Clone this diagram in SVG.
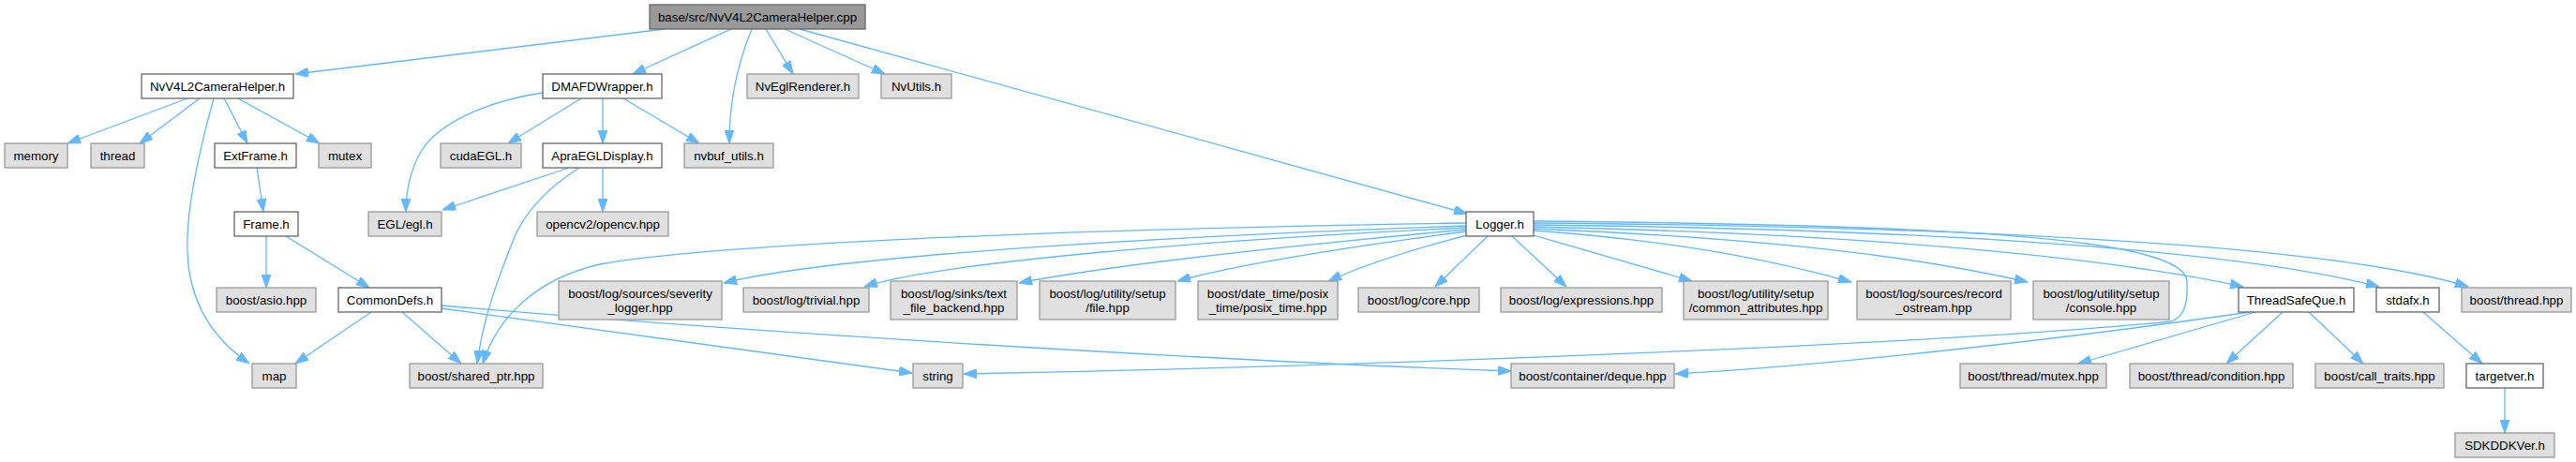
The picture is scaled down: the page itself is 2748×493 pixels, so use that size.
<svg xmlns="http://www.w3.org/2000/svg" width="2748" height="493" viewBox="0 0 2748 493">
<style>
.n rect{stroke-width:1.3}
.w rect{fill:#ffffff;stroke:#666666}
.g rect{fill:#e0e0e0;stroke:#999999}
.r rect{fill:#999999;stroke:#666666}
text{font-family:"Liberation Sans",Arial,Helvetica,sans-serif;font-size:13.3px;fill:#000000;text-anchor:middle}
#edges path{fill:none;stroke:#63b8ff;stroke-width:1.3;marker-end:url(#ah)}
</style>
<defs>
<marker id="ah" viewBox="0 0 14 10" markerWidth="14" markerHeight="10" refX="14" refY="5" orient="auto" markerUnits="userSpaceOnUse">
<path d="M0,0 L14,5 L0,10 z" fill="#63b8ff" stroke="#63b8ff" stroke-width="1"/>
</marker>
</defs>
<rect width="2748" height="493" fill="#ffffff"/>
<g id="edges">
<path d="M709,31 L315,79"/>
<path d="M780,31 L675,79"/>
<path d="M802,31 C790,60 778,100 778,153"/>
<path d="M817,31 L846,79"/>
<path d="M837,31 L944,79"/>
<path d="M853,31 L1565,228"/>
<path d="M200,105 L72,153"/>
<path d="M213,105 L149,153"/>
<path d="M228,105 C210,170 198,230 200,270 C202,320 225,360 266,388"/>
<path d="M239,105 L264,153"/>
<path d="M254,105 L341,153"/>
<path d="M579,99 C520,108 470,130 450,160 C437,182 433,205 433,226"/>
<path d="M620,105 L542,153"/>
<path d="M643,105 L643,153"/>
<path d="M665,105 L746,153"/>
<path d="M274,179 L281,226"/>
<path d="M607,179 L472,224"/>
<path d="M643,179 L643,226"/>
<path d="M618,179 C585,200 562,225 550,250 C532,295 515,340 509,388"/>
<path d="M284,252 L284,307"/>
<path d="M305,252 L394,307"/>
<path d="M396,333 L315,388"/>
<path d="M429,333 L492,388"/>
<path d="M471,329 L973,398"/>
<path d="M471,326 C800,355 1300,385 1612,396"/>
<path d="M1564,238 C1100,245 750,262 640,282 C570,298 530,340 515,388"/>
<path d="M1564,241 C1300,250 900,270 772,302"/>
<path d="M1564,243 C1300,255 1000,280 922,306"/>
<path d="M1564,245 C1400,260 1200,280 1087,302"/>
<path d="M1564,247 C1450,262 1320,282 1256,300"/>
<path d="M1565,251 C1500,268 1450,285 1417,300"/>
<path d="M1587,252 L1531,306"/>
<path d="M1613,252 L1671,306"/>
<path d="M1636,251 L1805,300"/>
<path d="M1636,246 C1800,258 1900,280 1975,301"/>
<path d="M1636,244 C1900,255 2050,275 2163,301"/>
<path d="M1636,242 C2000,250 2250,275 2393,306"/>
<path d="M1636,240 C2100,245 2400,270 2538,306"/>
<path d="M1636,238 C2150,242 2500,265 2633,306"/>
<path d="M1636,236 C2100,240 2330,255 2333,300 C2334,325 2330,338 2316,343 C2100,365 1500,390 1028,399"/>
<path d="M2406,333 L2217,388"/>
<path d="M2435,333 L2375,388"/>
<path d="M2463,333 L2521,388"/>
<path d="M2400,333 C2200,362 1950,390 1787,399"/>
<path d="M2585,333 L2648,388"/>
<path d="M2672,414 L2672,462"/>
</g>
<g id="n0" class="n r"><rect x="693" y="5" width="230" height="26"/><text x="808" y="22.5">base/src/NvV4L2CameraHelper.cpp</text></g>
<g id="n1" class="n w"><rect x="151" y="79" width="162" height="26"/><text x="232" y="96.5">NvV4L2CameraHelper.h</text></g>
<g id="n2" class="n w"><rect x="579" y="79" width="127" height="26"/><text x="642.5" y="96.5">DMAFDWrapper.h</text></g>
<g id="n3" class="n g"><rect x="797" y="79" width="119" height="26"/><text x="856.5" y="96.5">NvEglRenderer.h</text></g>
<g id="n4" class="n g"><rect x="940" y="79" width="75" height="26"/><text x="977.5" y="96.5">NvUtils.h</text></g>
<g id="n5" class="n g"><rect x="5" y="153" width="67" height="26"/><text x="38.5" y="170.5">memory</text></g>
<g id="n6" class="n g"><rect x="97" y="153" width="57" height="26"/><text x="125.5" y="170.5">thread</text></g>
<g id="n7" class="n w"><rect x="229" y="153" width="87" height="26"/><text x="272.5" y="170.5">ExtFrame.h</text></g>
<g id="n8" class="n g"><rect x="340" y="153" width="56" height="26"/><text x="368" y="170.5">mutex</text></g>
<g id="n9" class="n g"><rect x="470" y="153" width="86" height="26"/><text x="513" y="170.5">cudaEGL.h</text></g>
<g id="n10" class="n w"><rect x="579" y="153" width="127" height="26"/><text x="642.5" y="170.5">ApraEGLDisplay.h</text></g>
<g id="n11" class="n g"><rect x="730" y="153" width="95" height="26"/><text x="777.5" y="170.5">nvbuf_utils.h</text></g>
<g id="n12" class="n w"><rect x="250" y="226" width="68" height="26"/><text x="284" y="243.5">Frame.h</text></g>
<g id="n13" class="n g"><rect x="393" y="226" width="78" height="26"/><text x="432" y="243.5">EGL/egl.h</text></g>
<g id="n14" class="n g"><rect x="573" y="226" width="140" height="26"/><text x="643" y="243.5">opencv2/opencv.hpp</text></g>
<g id="n15" class="n w"><rect x="1564" y="226" width="72" height="26"/><text x="1600" y="243.5">Logger.h</text></g>
<g id="n16" class="n g"><rect x="231" y="307" width="106" height="26"/><text x="284" y="324.5">boost/asio.hpp</text></g>
<g id="n17" class="n w"><rect x="361" y="307" width="110" height="26"/><text x="416" y="324.5">CommonDefs.h</text></g>
<g id="n18" class="n g"><rect x="596" y="300" width="174" height="41"/><text x="683" y="318">boost/log/sources/severity</text><text x="683" y="333">_logger.hpp</text></g>
<g id="n19" class="n g"><rect x="793" y="307" width="134" height="26"/><text x="860" y="324.5">boost/log/trivial.hpp</text></g>
<g id="n20" class="n g"><rect x="950" y="300" width="135" height="41"/><text x="1017.5" y="318">boost/log/sinks/text</text><text x="1017.5" y="333">_file_backend.hpp</text></g>
<g id="n21" class="n g"><rect x="1109" y="300" width="145" height="41"/><text x="1181.5" y="318">boost/log/utility/setup</text><text x="1181.5" y="333">/file.hpp</text></g>
<g id="n22" class="n g"><rect x="1278" y="300" width="149" height="41"/><text x="1352.5" y="318">boost/date_time/posix</text><text x="1352.5" y="333">_time/posix_time.hpp</text></g>
<g id="n23" class="n g"><rect x="1449" y="307" width="129" height="26"/><text x="1513.5" y="324.5">boost/log/core.hpp</text></g>
<g id="n24" class="n g"><rect x="1601" y="307" width="172" height="26"/><text x="1687" y="324.5">boost/log/expressions.hpp</text></g>
<g id="n25" class="n g"><rect x="1796" y="300" width="154" height="41"/><text x="1873" y="318">boost/log/utility/setup</text><text x="1873" y="333">/common_attributes.hpp</text></g>
<g id="n26" class="n g"><rect x="1981" y="300" width="164" height="41"/><text x="2063" y="318">boost/log/sources/record</text><text x="2063" y="333">_ostream.hpp</text></g>
<g id="n27" class="n g"><rect x="2169" y="300" width="145" height="41"/><text x="2241.5" y="318">boost/log/utility/setup</text><text x="2241.5" y="333">/console.hpp</text></g>
<g id="n28" class="n w"><rect x="2388" y="307" width="123" height="26"/><text x="2449.5" y="324.5">ThreadSafeQue.h</text></g>
<g id="n29" class="n w"><rect x="2535" y="307" width="67" height="26"/><text x="2568.5" y="324.5">stdafx.h</text></g>
<g id="n30" class="n g"><rect x="2626" y="307" width="117" height="26"/><text x="2684.5" y="324.5">boost/thread.hpp</text></g>
<g id="n31" class="n g"><rect x="269" y="388" width="47" height="26"/><text x="292.5" y="405.5">map</text></g>
<g id="n32" class="n g"><rect x="437" y="388" width="142" height="26"/><text x="508" y="405.5">boost/shared_ptr.hpp</text></g>
<g id="n33" class="n g"><rect x="974" y="388" width="53" height="26"/><text x="1000.5" y="405.5">string</text></g>
<g id="n34" class="n g"><rect x="1612" y="388" width="174" height="26"/><text x="1699" y="405.5">boost/container/deque.hpp</text></g>
<g id="n35" class="n g"><rect x="2091" y="388" width="156" height="26"/><text x="2169" y="405.5">boost/thread/mutex.hpp</text></g>
<g id="n36" class="n g"><rect x="2272" y="388" width="174" height="26"/><text x="2359" y="405.5">boost/thread/condition.hpp</text></g>
<g id="n37" class="n g"><rect x="2470" y="388" width="137" height="26"/><text x="2538.5" y="405.5">boost/call_traits.hpp</text></g>
<g id="n38" class="n w"><rect x="2631" y="388" width="82" height="26"/><text x="2672" y="405.5">targetver.h</text></g>
<g id="n39" class="n g"><rect x="2619" y="462" width="106" height="26"/><text x="2672" y="479.5">SDKDDKVer.h</text></g>
</svg>
